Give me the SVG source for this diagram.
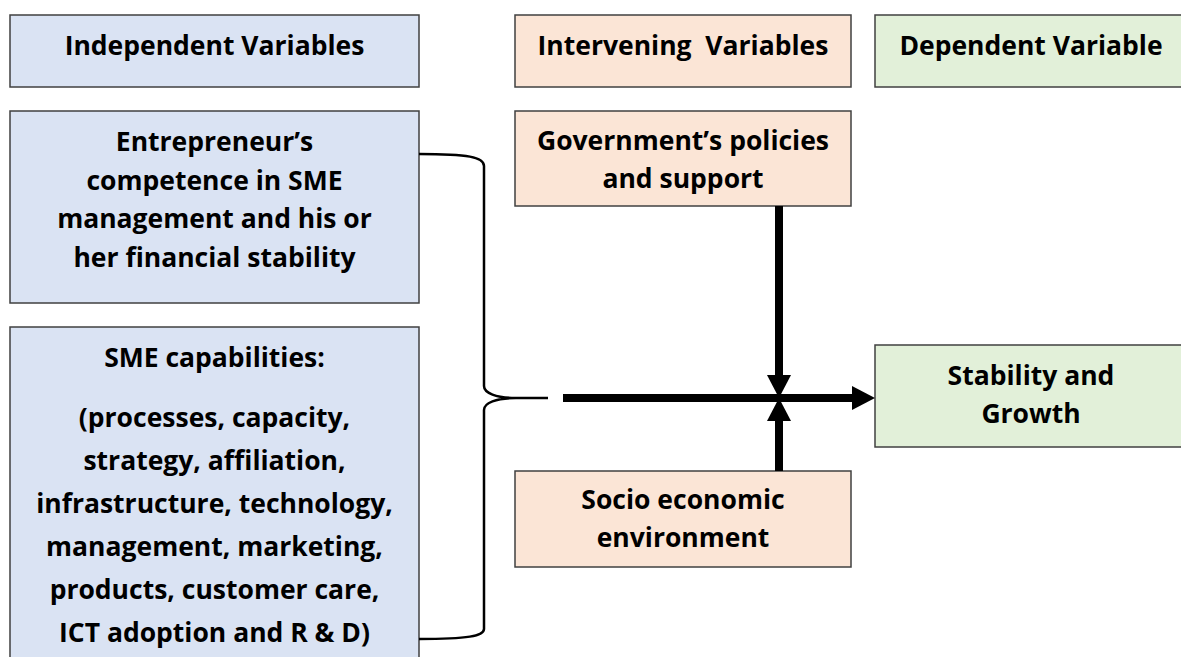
<svg xmlns="http://www.w3.org/2000/svg" width="1181" height="657" viewBox="0 0 1181 657">
<defs>
<style>
.box{stroke:#404040;stroke-width:1.5}
.ind{fill:#DAE3F3}
.int{fill:#FBE5D6}
.dep{fill:#E2F0D9}
text{font-family:"Open Sans","Liberation Sans",sans-serif;font-weight:bold;font-size:26.5px;fill:#000;text-anchor:middle}
.conn{stroke:#000;stroke-width:8;fill:none}
.brace{stroke:#000;stroke-width:2.5;fill:none}
</style>
<marker id="ah" markerUnits="userSpaceOnUse" markerWidth="24" markerHeight="24" refX="0" refY="12" orient="auto" viewBox="0 0 24 24"><path d="M0,0 L23,12 L0,24 z" fill="#000"/></marker>
</defs>
<rect width="1181" height="657" fill="#fff"/>
<g id="independent-header"><rect class="box ind" x="10" y="15" width="409" height="72"/><text x="214.5" y="55">Independent Variables</text></g>
<g id="intervening-header"><rect class="box int" x="515" y="15" width="336" height="72"/><text x="683" y="55" xml:space="preserve">Intervening  Variables</text></g>
<g id="dependent-header"><rect class="box dep" x="875" y="15" width="312" height="72"/><text x="1031" y="55">Dependent Variable</text></g>
<g id="entrepreneur"><rect class="box ind" x="10" y="111" width="409" height="192"/>
<text x="214.5" y="151">Entrepreneur’s</text>
<text x="214.5" y="190">competence in SME</text>
<text x="214.5" y="228">management and his or</text>
<text x="214.5" y="267">her financial stability</text></g>
<g id="sme-capabilities"><rect class="box ind" x="10" y="327" width="409" height="345"/>
<text x="214.5" y="367">SME capabilities:</text>
<text x="214.5" y="427">(processes, capacity,</text>
<text x="214.5" y="470">strategy, affiliation,</text>
<text x="214.5" y="513">infrastructure, technology,</text>
<text x="214.5" y="556">management, marketing,</text>
<text x="214.5" y="599">products, customer care,</text>
<text x="214.5" y="642">ICT adoption and R &amp; D)</text></g>
<g id="government"><rect class="box int" x="515" y="111" width="336" height="95"/>
<text x="683" y="150">Government’s policies</text>
<text x="683" y="188">and support</text></g>
<g id="socio-economic"><rect class="box int" x="515" y="471" width="336" height="96"/>
<text x="683" y="509">Socio economic</text>
<text x="683" y="547">environment</text></g>
<g id="stability-growth"><rect class="box dep" x="875" y="345" width="312" height="102"/>
<text x="1031" y="385">Stability and</text>
<text x="1031" y="423">Growth</text></g>
<g id="connectors">
<path class="brace" d="M419,154 C468,154 484,157 484,166 L484,386 C484,393 496,398 516,398 L548,398 M516,398 C496,398 484,403 484,410 L484,629 C484,636 468,639 419,639"/>
<line class="conn" x1="563" y1="398" x2="852" y2="398" marker-end="url(#ah)"/>
<line class="conn" x1="779" y1="206" x2="779" y2="375" marker-end="url(#ah)"/>
<line class="conn" x1="779" y1="471" x2="779" y2="421" marker-end="url(#ah)"/>
</g>
</svg>
